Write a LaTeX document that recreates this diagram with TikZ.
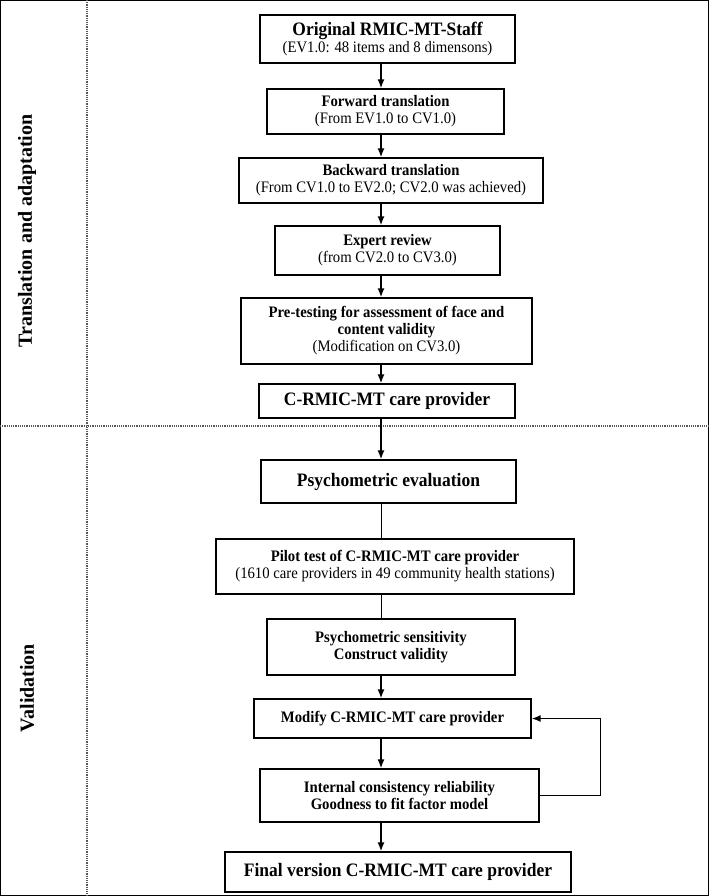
\documentclass[tikz,border=0pt]{standalone}
\usepackage{fontspec}
\setmainfont{Liberation Serif}[FakeStretch=0.92]
\newfontfamily\sidefont{Liberation Serif}
\usetikzlibrary{arrows.meta}

\tikzset{
  stage/.style={draw, line width=1.2pt, align=center, inner sep=0pt,
    font=\fontsize{16}{17}\selectfont},
  bigstage/.style={stage, font=\fontsize{19}{21}\selectfont\bfseries},
  flow/.style={-{Latex[length=9pt,width=7pt]}, line width=1.6pt},
  plain/.style={line width=0.8pt},
  divider/.style={densely dotted, line width=1.2pt, black!65},
  side/.style={rotate=90, font=\sidefont\fontsize{20}{22}\selectfont\bfseries}
}

\begin{document}
\begin{tikzpicture}[x=1pt, y=-1pt]
    \useasboundingbox (0, 0) rectangle (709, 896);
    \draw[line width=1.2pt] (0.6, 0.6) rectangle (708.4, 895.4);
    \draw[divider] (87, 0) -- (87, 896);
    \draw[divider] (0, 426) -- (709, 426);

    \node[side] (sideA) at (27, 231) {Translation and adaptation};
    \node[side] (sideB) at (27, 688) {Validation};

    \coordinate (spine) at (381, 0);

    \node[stage, minimum width=255, minimum height=48] (orig) at (387.5, 39)
        {{\fontsize{19}{17}\selectfont\bfseries Original RMIC-MT-Staff}\\(EV1.0: 48 items and 8 dimensons)};
    \node[stage, minimum width=237, minimum height=45] (fwd) at (385.5, 111.5)
        {\textbf{Forward translation}\\(From EV1.0 to CV1.0)};
    \node[stage, minimum width=304, minimum height=45] (bwd) at (391, 180.5)
        {\textbf{Backward translation}\\(From CV1.0 to EV2.0; CV2.0 was achieved)};
    \node[stage, minimum width=225, minimum height=49] (expert) at (387.5, 250.5)
        {\textbf{Expert review}\\(from CV2.0 to CV3.0)};
    \node[stage, minimum width=291, minimum height=66] (pretest) at (386.5, 331)
        {\textbf{Pre-testing for assessment of face and}\\\textbf{content validity}\\(Modification on CV3.0)};
    \node[bigstage, minimum width=256, minimum height=34] (crmic) at (387, 401)
        {C-RMIC-MT care provider};

    \node[bigstage, minimum width=255, minimum height=43] (psycho) at (388.5, 481.5)
        {Psychometric evaluation};
    \node[stage, minimum width=358, minimum height=55] (pilot) at (395, 566.5)
        {\textbf{Pilot test of C-RMIC-MT care provider}\\(1610 care providers in 49 community health stations)};
    \node[stage, minimum width=248, minimum height=56] (sens) at (391, 647)
        {\textbf{Psychometric sensitivity}\\\textbf{Construct validity}};
    \node[stage, minimum width=277, minimum height=39] (modify) at (392.5, 718.5)
        {\textbf{Modify C-RMIC-MT care provider}};
    \node[stage, minimum width=279, minimum height=53] (intern) at (399.5, 795.5)
        {\textbf{Internal consistency reliability}\\\textbf{Goodness to fit factor model}};
    \node[bigstage, minimum width=346, minimum height=40] (final) at (398, 872)
        {Final version C-RMIC-MT care provider};

    \draw[flow] (orig.south -| spine) -- (fwd.north -| spine);
    \draw[flow] (fwd.south -| spine) -- (bwd.north -| spine);
    \draw[flow] (bwd.south -| spine) -- (expert.north -| spine);
    \draw[flow] (expert.south -| spine) -- (pretest.north -| spine);
    \draw[flow] (pretest.south -| spine) -- (crmic.north -| spine);
    \draw[flow] (crmic.south -| spine) -- (psycho.north -| spine);
    \draw[plain] (psycho.south -| spine) -- (pilot.north -| spine);
    \draw[plain] (pilot.south -| spine) -- (sens.north -| spine);
    \draw[flow] (sens.south -| spine) -- (modify.north -| spine);
    \draw[flow] (modify.south -| spine) -- (intern.north -| spine);
    \draw[flow] (intern.south -| spine) -- (final.north -| spine);
    \draw[flow] (intern.east) -- ++(61, 0) |- (modify.east);
\end{tikzpicture}
\end{document}
